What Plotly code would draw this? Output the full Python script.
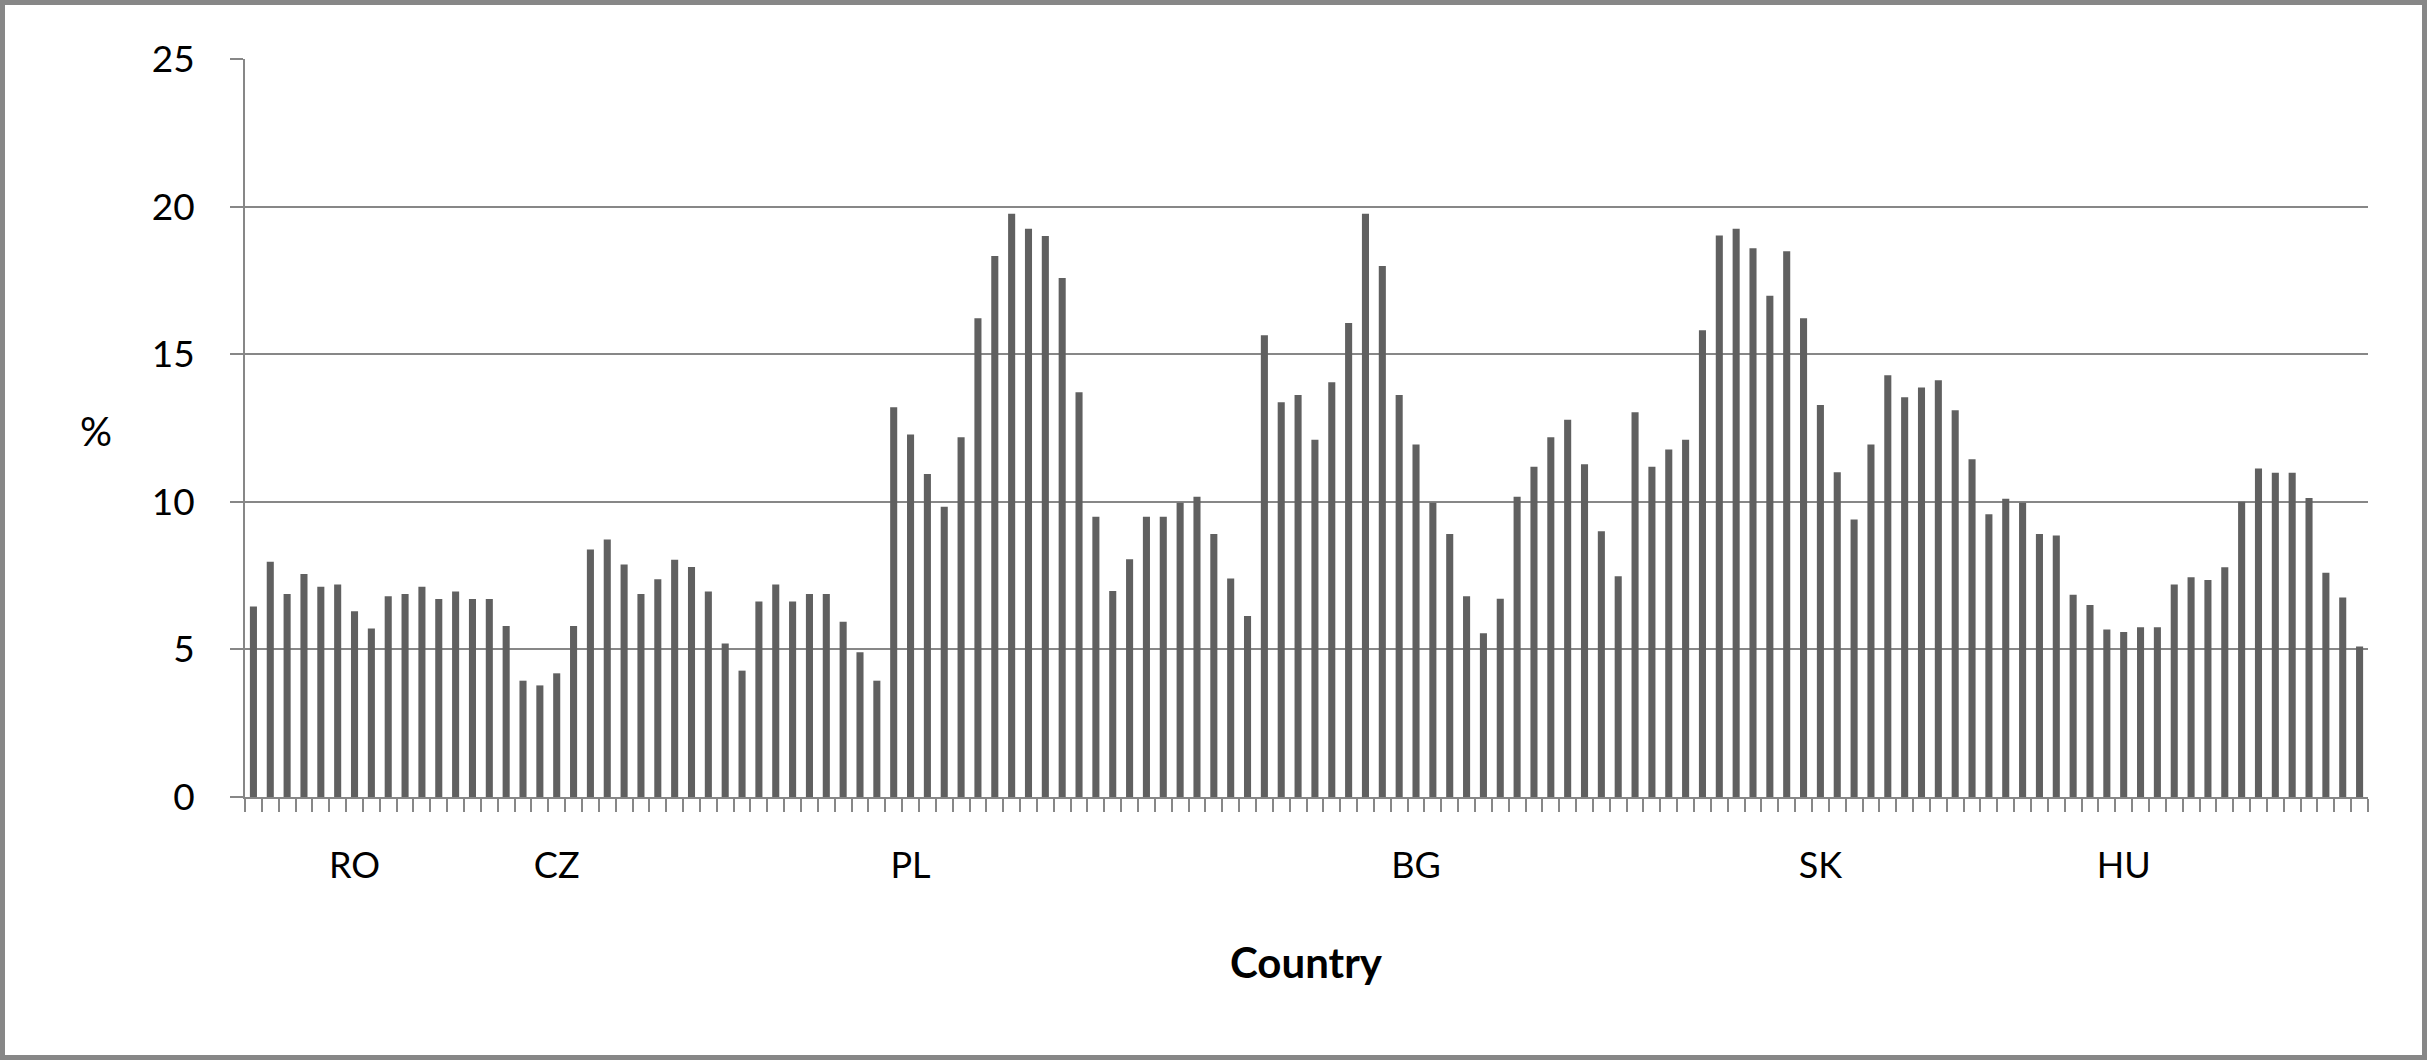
import plotly.graph_objects as go

# Share (%) per observation, in chart order
values = [
    6.45, 7.97, 6.88, 7.55, 7.12, 7.2, 6.29, 5.71, 6.8, 6.88, 7.12, 6.71, 6.96, 6.71, 6.71, 5.79,
    3.94, 3.78, 4.19, 5.79, 8.38, 8.72, 7.88, 6.88, 7.38, 8.04, 7.79, 6.96, 5.2, 4.28, 6.62, 7.2,
    6.62, 6.88, 6.88, 5.94, 4.9, 3.94,
    13.2, 12.28, 10.94, 9.83, 12.19, 16.22, 18.33, 19.76, 19.25, 19.0, 17.58, 13.71, 9.49, 6.98,
    8.05, 9.49, 9.49, 9.97, 10.17, 8.91, 7.4, 6.13,
    15.64, 13.37, 13.62, 12.1, 14.05, 16.06, 19.76, 17.99, 13.62, 11.94, 9.97, 8.91, 6.8, 5.55,
    6.72, 10.17, 11.19, 12.19, 12.78, 11.27, 9.0, 7.48,
    13.03, 11.19, 11.77, 12.1, 15.81, 19.02, 19.25, 18.59, 16.98, 18.49, 16.22, 13.28, 11.0, 9.4,
    11.94, 14.29, 13.54, 13.87, 14.12, 13.1, 11.44, 9.58, 10.1, 9.97, 8.91,
    8.86, 6.85, 6.5, 5.67, 5.59, 5.75, 5.75, 7.2, 7.44, 7.35, 7.78, 10.0, 11.13, 10.98, 10.98,
    10.13, 7.6, 6.76, 5.1,
]
positions = list(range(1, len(values) + 1))

country_labels = ["RO", "CZ", "PL", "BG", "SK", "HU"]
country_label_at = [7, 19, 40, 70, 94, 112]

y_ticks = [0, 5, 10, 15, 20, 25]

FONT = "Lato, 'Open Sans', sans-serif"
GRID = "#878787"

fig = go.Figure(
    go.Bar(
        x=positions,
        y=values,
        marker=dict(color="#606060", line=dict(width=0)),
        hoverinfo="x+y",
    )
)

fig.update_layout(
    width=2427,
    height=1060,
    margin=dict(l=245, r=59, t=59, b=263),
    paper_bgcolor="white",
    plot_bgcolor="white",
    bargap=0.58,
    showlegend=False,
    font=dict(family=FONT, color="black", size=36),
)

fig.update_xaxes(
    range=[0.5, len(values) + 0.5],
    tickmode="array",
    tickvals=country_label_at,
    ticktext=country_labels,
    ticks="",
    ticklabelstandoff=36,
    tickfont=dict(family=FONT, size=36, color="black"),
    showgrid=False,
    zeroline=False,
    showline=True,
    linecolor=GRID,
    linewidth=2,
    minor=dict(tick0=0.5, dtick=1, ticks="outside", ticklen=13, tickwidth=2, tickcolor=GRID),
)

fig.update_yaxes(
    range=[0, 25],
    tickmode="array",
    tickvals=y_ticks,
    ticks="outside",
    ticklen=13,
    tickwidth=2,
    tickcolor=GRID,
    ticklabelstandoff=28,
    tickfont=dict(family=FONT, size=37, color="black"),
    showgrid=True,
    gridcolor=GRID,
    gridwidth=2,
    zeroline=False,
    showline=True,
    linecolor=GRID,
    linewidth=2,
)

# axis titles (horizontal "%" as in the original)
fig.add_annotation(
    text="%", xref="paper", yref="paper", x=(96 - 245) / 2123, y=(797 - 431) / 738,
    showarrow=False, font=dict(family=FONT, size=40, color="black"),
    xanchor="center", yanchor="middle",
)
fig.add_annotation(
    text="<b>Country</b>", xref="paper", yref="paper", x=0.5, y=(797 - 962) / 738,
    showarrow=False, font=dict(family=FONT, size=42, color="black"),
    xanchor="center", yanchor="middle",
)

# chart frame
fig.add_shape(
    type="rect", xref="paper", yref="paper",
    x0=(2.5 - 245) / 2123, x1=(2424.5 - 245) / 2123,
    y0=(797 - 1057.5) / 738, y1=(797 - 2.5) / 738,
    line=dict(color="#878787", width=5), fillcolor="rgba(0,0,0,0)", layer="above",
)

fig.write_html(
    "out.html",
    config={"displayModeBar": False},
    post_script="document.body.style.margin='0';document.body.style.overflow='hidden';",
)
